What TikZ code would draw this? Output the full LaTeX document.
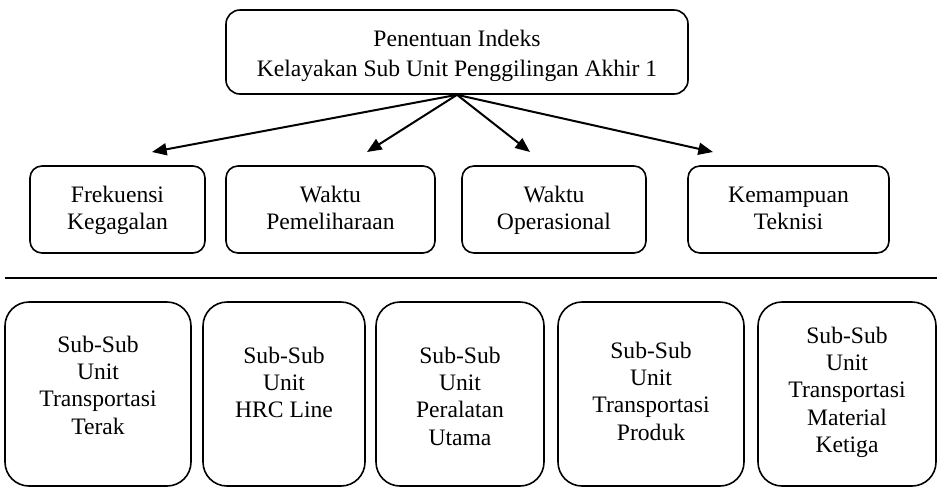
\documentclass[tikz,border=0pt]{standalone}
\usepackage{fontspec}
\setmainfont{Liberation Serif}
\usetikzlibrary{arrows.meta}

% invisible rule that sets the height of the first line of a box
\newcommand\linetop[1]{\rule{0pt}{#1}}

\tikzset{
  % invisible rule below the last line fixes where the lines sit in a box
  lowstrut/.style={execute at end node={\rule[-#1]{0pt}{#1}}},
  box/.style={draw, line width=1.2pt, inner sep=0pt, align=center},
  headbox/.style={box, rounded corners=10.5pt, minimum height=63pt,
    font=\fontsize{17.7}{22.5}\selectfont, lowstrut=4pt},
  critbox/.style={box, rounded corners=9pt, minimum height=65.25pt,
    font=\fontsize{17.7}{20.25}\selectfont, lowstrut=4pt},
  unitbox/.style={box, rounded corners=18pt, minimum height=138pt,
    font=\fontsize{17.7}{20.6}\selectfont},
  link/.style={line width=1.5pt, -{Triangle[length=11pt,width=9pt]}},
  rule/.style={line width=1.6pt}
}

\begin{document}
\begin{tikzpicture}[x=0.75pt, y=-0.75pt]
  \useasboundingbox (0,0) rectangle (937,487);

  % goal
  \node (goal) [headbox, minimum width=346.5pt] at (457,52)
    {\linetop{17.5pt}Penentuan Indeks\\Kelayakan Sub Unit Penggilingan Akhir 1};

  % criteria
  \node (c1) [critbox, minimum width=131.25pt] at (117.5,209.5)
    {\linetop{13.85pt}Frekuensi\\Kegagalan};
  \node (c2) [critbox, minimum width=156.75pt] at (330.5,209.5)
    {\linetop{13.85pt}Waktu\\Pemeliharaan};
  \node (c3) [critbox, minimum width=138pt]    at (554,209.5)
    {\linetop{13.85pt}Waktu\\Operasional};
  \node (c4) [critbox, minimum width=150.75pt] at (788.5,209.5)
    {\linetop{13.85pt}Kemampuan\\Teknisi};

  % arrow ends above the criteria
  \coordinate (e1) at (152,152);
  \coordinate (e2) at (367,152);
  \coordinate (e3) at (530,152);
  \coordinate (e4) at (713,152);
  \foreach \e in {e1,e2,e3,e4}
    \draw[link] (goal.south) -- (\e);

  % separator
  \coordinate (sepL) at (5,278);
  \coordinate (sepR) at (937,278);
  \draw[rule] (sepL) -- (sepR);

  % alternatives
  \node (u1) [unitbox, minimum width=139.5pt, lowstrut=13.7pt] at (98,394)
    {\linetop{12.5pt}Sub-Sub\\Unit\\Transportasi\\Terak};
  \node (u2) [unitbox, minimum width=121.5pt, lowstrut=17.8pt] at (284,394)
    {\linetop{12.5pt}Sub-Sub\\Unit\\HRC Line};
  \node (u3) [unitbox, minimum width=126pt, lowstrut=4pt] at (460,394)
    {\linetop{19.3pt}Sub-Sub\\Unit\\Peralatan\\Utama};
  \node (u4) [unitbox, minimum width=139.5pt, lowstrut=4.7pt] at (651,394)
    {\linetop{12.5pt}Sub-Sub\\Unit\\Transportasi\\Produk};
  \node (u5) [unitbox, minimum width=133.5pt, lowstrut=6.6pt] at (847,394)
    {\linetop{12.5pt}Sub-Sub\\Unit\\Transportasi\\Material\\Ketiga};
\end{tikzpicture}
\end{document}
